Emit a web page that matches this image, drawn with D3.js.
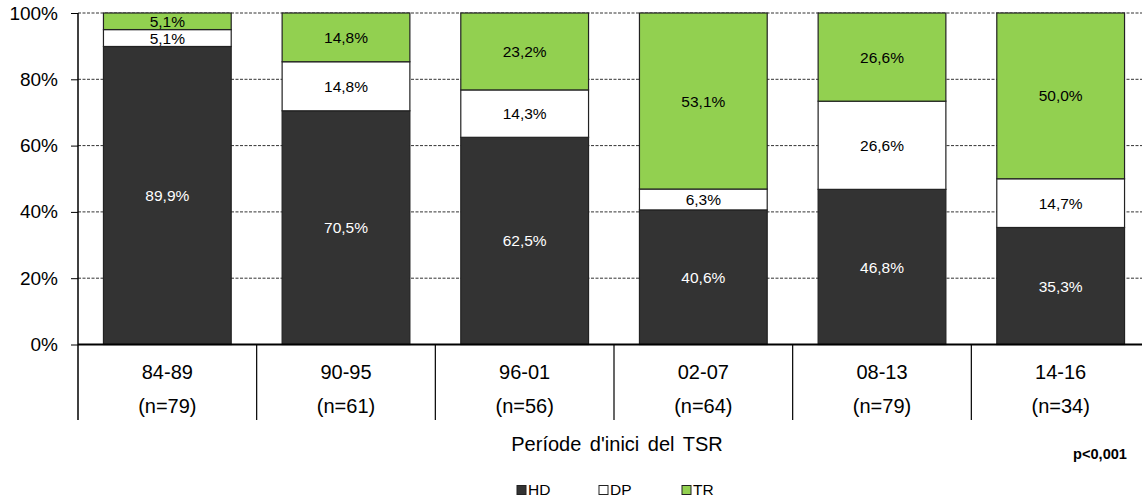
<!DOCTYPE html>
<html><head><meta charset="utf-8">
<script src="https://cdn.jsdelivr.net/npm/d3@7"></script>
<style>body{margin:0;background:#fff;}svg{display:block;font-family:"Liberation Sans",Arial,sans-serif;}</style>
</head><body>
<svg id="c" width="1142" height="500"></svg>
<script>
const periods = ["84-89","90-95","96-01","02-07","08-13","14-16"];
const counts = ["(n=79)","(n=61)","(n=56)","(n=64)","(n=79)","(n=34)"];
const seriesNames = ["HD","DP","TR"];
const hd = [89.9,70.5,62.5,40.6,46.8,35.3];
const dp = [5.1,14.8,14.3,6.3,26.6,14.7];
const tr = [5.1,14.8,23.2,53.1,26.6,50.0];
const yTicks = [0,20,40,60,80,100];
const colors = ["#333333","#ffffff","#92d050"];
const labelColors = ["#ffffff","#000000","#000000"];

const svg = d3.select("#c");
const x0 = 78, x1 = 1150, yTop = 13, yBot = 344.5;
const x = d3.scaleBand().domain(periods).range([x0, x1]).paddingInner(0.285).paddingOuter(0.1425);
const xb = d3.scaleBand().domain(periods).range([x0, x1]);
const y = d3.scaleLinear().domain([0,100]).range([yBot, yTop]);

// gridlines
svg.append("g").selectAll("line").data(yTicks.filter(d=>d>0)).join("line")
  .attr("x1", x0).attr("x2", 1142).attr("y1", d=>y(d)).attr("y2", d=>y(d))
  .attr("stroke","#333").attr("stroke-width",1).attr("stroke-dasharray","3,1.5");

// stacked data
const rows = periods.map((p,i)=>({p, HD:hd[i], DP:dp[i], TR:tr[i]}));
const stack = d3.stack().keys(seriesNames)(rows);
const g = svg.append("g");
stack.forEach((s,si)=>{
  g.selectAll(null).data(s).join("rect")
    .attr("x", d=>x(d.data.p)).attr("width", x.bandwidth())
    .attr("y", d=>y(Math.min(100,d[1]))).attr("height", d=>y(d[0])-y(Math.min(100,d[1])))
    .attr("fill", colors[si]).attr("stroke","#222").attr("stroke-width",1.2);
});
stack.forEach((s,si)=>{
  g.selectAll(null).data(s).join("text")
    .attr("x", d=>x(d.data.p)+x.bandwidth()/2)
    .attr("y", d=>(y(d[0])+y(Math.min(100,d[1])))/2)
    .attr("dy","0.36em").attr("text-anchor","middle")
    .attr("font-size",15.5).attr("fill",labelColors[si])
    .text(d=>(d[1]-d[0]).toFixed(1).replace(".",",")+"%");
});

// y axis
const ya = svg.append("g").attr("transform",`translate(${x0},0)`)
  .call(d3.axisLeft(y).tickValues(yTicks).tickFormat(d=>d+"%").tickSize(7).tickPadding(13));
ya.select(".domain").remove();
ya.selectAll("text").attr("font-size",19).attr("fill","#000").attr("font-family","Liberation Sans, Arial, sans-serif");
ya.selectAll("line").attr("stroke","#000");
svg.append("line").attr("x1",x0).attr("x2",x0).attr("y1",yTop).attr("y2",420).attr("stroke","#000").attr("stroke-width",1.5);

// x axis baseline
svg.append("line").attr("x1",x0).attr("x2",1142).attr("y1",yBot).attr("y2",yBot).attr("stroke","#000").attr("stroke-width",2);
// separators
svg.append("g").selectAll("line").data(periods.slice(1)).join("line")
  .attr("x1",d=>xb(d)).attr("x2",d=>xb(d)).attr("y1",yBot).attr("y2",420)
  .attr("stroke","#000").attr("stroke-width",1.2);
svg.append("g").selectAll("text").data(periods).join("text")
  .attr("x",d=>xb(d)+xb.bandwidth()/2).attr("y",379).attr("text-anchor","middle")
  .attr("font-size",20).text(d=>d);
svg.append("g").selectAll("text").data(counts).join("text")
  .attr("x",(d,i)=>xb(periods[i])+xb.bandwidth()/2).attr("y",413).attr("text-anchor","middle")
  .attr("font-size",20).text(d=>d);

svg.append("text").attr("x",617).attr("y",451).attr("text-anchor","middle").attr("font-size",20)
  .attr("word-spacing",3).text("Període d'inici del TSR");
svg.append("text").attr("x",1127).attr("y",459).attr("text-anchor","end").attr("font-size",14.6).attr("font-weight","bold").text("p<0,001");

// legend
const legX = [517, 599, 682];
const lg = svg.append("g");
seriesNames.forEach((n,i)=>{
  lg.append("rect").attr("x",legX[i]).attr("y",485.5).attr("width",9).attr("height",9)
    .attr("fill",colors[i]).attr("stroke","#222").attr("stroke-width",1);
  lg.append("text").attr("x",legX[i]+11).attr("y",495).attr("font-size",15.5).text(n);
});
</script>
</body></html>
